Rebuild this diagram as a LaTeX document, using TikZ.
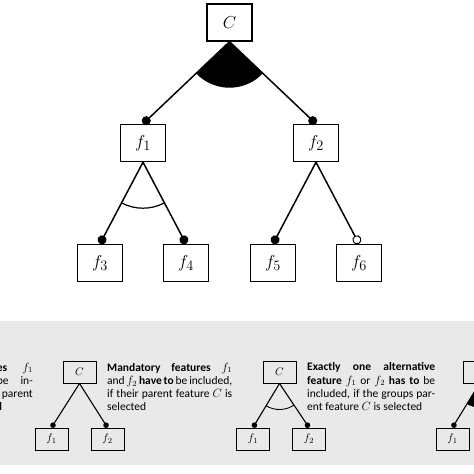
\documentclass[tikz,border=0pt]{standalone}
\usepackage{fontspec}
\setsansfont{Carlito}
\usetikzlibrary{positioning,arrows.meta,calc}

\definecolor{legendgray}{RGB}{233,233,233}

\tikzset{
  feat/.style={draw, line width=1.4pt, minimum width=45pt, minimum height=37pt,
    inner sep=0pt, font=\fontsize{19}{19}\selectfont},
  sfeat/.style={draw, line width=1pt, minimum width=33pt, minimum height=22pt,
    inner sep=0pt, font=\fontsize{11}{11}\selectfont},
  mand/.style={line width=1.5pt, -{Circle[length=9pt]}},
  opt/.style={line width=1.5pt, -{Circle[open, length=9pt, line width=1pt]}},
  smand/.style={line width=1.1pt, -{Circle[length=5.5pt]}},
  legtext/.style={anchor=north west, align=justify, inner sep=0pt,
    font=\sffamily\fontsize{11.5}{13.3}\selectfont},
}

% alternative group (open arc) and or group (filled sector)
\newcommand{\altarc}[5]{%
  \draw[line width=#5] let \p1=(#1.south), \p2=(#2.north), \p3=(#3.north),
    \n1={atan2(\y2-\y1,\x2-\x1)}, \n2={atan2(\y3-\y1,\x3-\x1)} in
    (\p1) ++(\n1:#4) arc[start angle=\n1, end angle=\n2, radius=#4];}
\newcommand{\orarc}[4]{%
  \fill let \p1=(#1.south), \p2=(#2.north), \p3=(#3.north),
    \n1={atan2(\y2-\y1,\x2-\x1)}, \n2={atan2(\y3-\y1,\x3-\x1)} in
    (\p1) -- ++(\n1:#4) arc[start angle=\n1, end angle=\n2, radius=#4] -- cycle;}

\begin{document}
\begin{tikzpicture}[x=1pt, y=1pt, on grid]
  \useasboundingbox (0,0) rectangle (474,-474);
  \clip (0,0) rectangle (474,-474);

  % feature tree
  \node[feat] (C) at (229.5,-22.5) {$C$};
  \node[feat, below left=120.5pt and 86.5pt of C] (f1) {$f_1$};
  \node[feat, below right=120.5pt and 86.5pt of C] (f2) {$f_2$};
  \node[feat, below left=120pt and 43pt of f1] (f3) {$f_3$};
  \node[feat, below right=120pt and 43pt of f1] (f4) {$f_4$};
  \node[feat, below left=120pt and 43pt of f2] (f5) {$f_5$};
  \node[feat, below right=120pt and 43pt of f2] (f6) {$f_6$};

  \draw[mand] (C.south) -- (f1.north);
  \draw[mand] (C.south) -- (f2.north);
  \draw[mand] (f1.south) -- (f3.north);
  \draw[mand] (f1.south) -- (f4.north);
  \draw[mand] (f2.south) -- (f5.north);
  \draw[opt] (f2.south) -- (f6.north);
  \orarc{C}{f1}{f2}{46}
  \altarc{f1}{f3}{f4}{46}{1.2pt}

  % legend
  \fill[legendgray] (0,-321) rectangle (474,-465);

  \node[legtext, text width=36pt, anchor=north east, align=left] (t0) at (33,-362.5)
    {\textbf{es}\hfill$f_1$\\ be\hfill in-\\ \hfill parent\\ \hspace*{-1pt}\textbf{d}};

  \node[sfeat] (lc1) at (79.5,-372) {$C$};
  \node[sfeat, below left=67pt and 28pt of lc1] (l1a) {$f_1$};
  \node[sfeat, below right=67pt and 28pt of lc1] (l1b) {$f_2$};
  \draw[smand] (lc1.south) -- (l1a.north);
  \draw[smand] (lc1.south) -- (l1b.north);
  \node[legtext, text width=125pt] (t1) at (107,-362.5)
    {\textbf{Mandatory features} $f_1$\linebreak
     and $f_2$ \textbf{have to} be included,\linebreak
     if their parent feature $C$ is\linebreak
     selected};

  \node[sfeat] (lc2) at (279.5,-372) {$C$};
  \node[sfeat, below left=67pt and 26.5pt of lc2] (l2a) {$f_1$};
  \node[sfeat, below right=67pt and 29.5pt of lc2] (l2b) {$f_2$};
  \draw[smand] (lc2.south) -- (l2a.north);
  \draw[smand] (lc2.south) -- (l2b.north);
  \altarc{lc2}{l2a}{l2b}{26}{0.9pt}
  \node[legtext, text width=128pt] (t2) at (307,-362.5)
    {\textbf{Exactly one alternative}\linebreak
     \textbf{feature} $f_1$ or $f_2$ \textbf{has to} be\linebreak
     included, if the groups par-\linebreak
     ent feature $C$ is selected};

  \node[sfeat] (lc3) at (479.5,-372) {$C$};
  \node[sfeat, below left=67pt and 27pt of lc3] (l3a) {$f_1$};
  \coordinate[below right=56pt and 28pt of lc3] (l3b);
  \draw[smand] (lc3.south) -- (l3a.north);
  \orarc{lc3}{l3a}{l3b}{24}
\end{tikzpicture}
\end{document}
